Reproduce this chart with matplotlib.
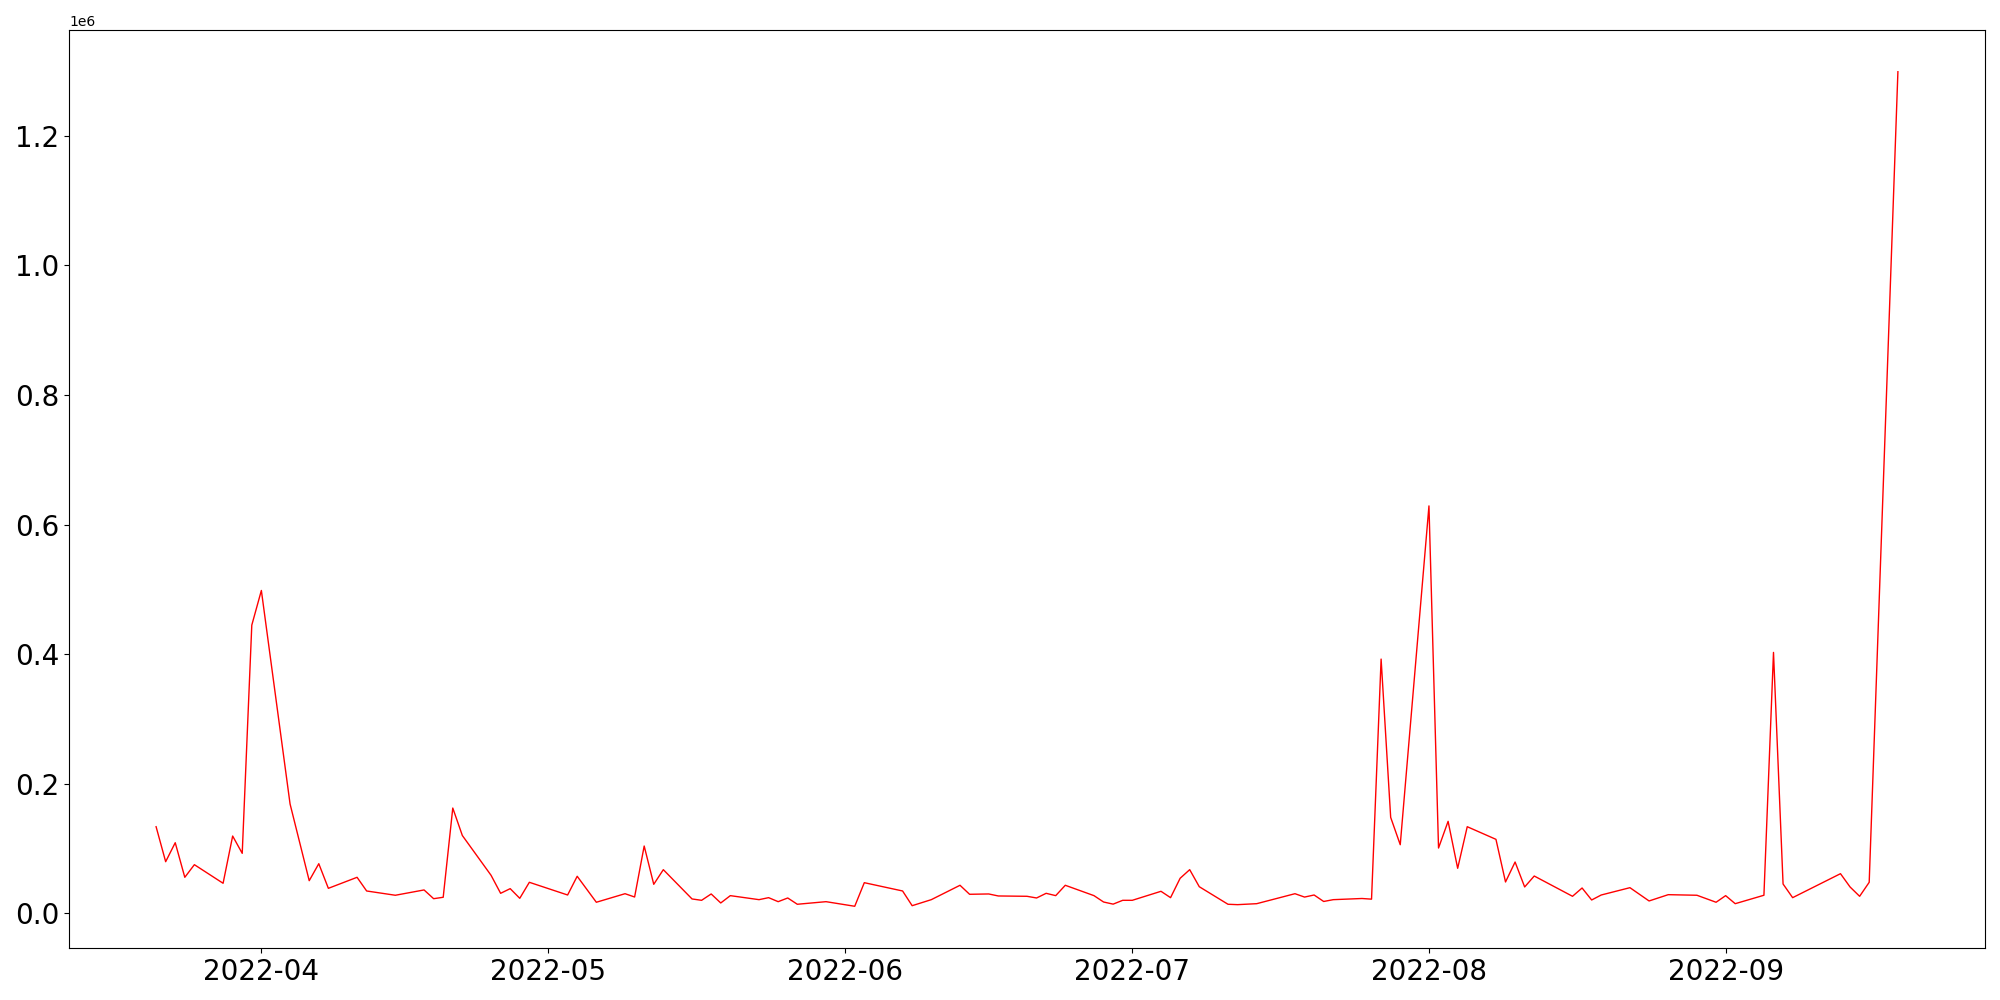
import pandas as pd
import numpy as np
import matplotlib
matplotlib.use("Agg")
import matplotlib.pyplot as plt

# daily values (gaps = missing days)
dates = ["2022-03-21", "2022-03-22", "2022-03-23", "2022-03-24", "2022-03-25",
         "2022-03-28", "2022-03-29", "2022-03-30", "2022-03-31", "2022-04-01",
         "2022-04-04", "2022-04-06", "2022-04-07", "2022-04-08", "2022-04-11",
         "2022-04-12", "2022-04-15", "2022-04-18", "2022-04-19", "2022-04-20",
         "2022-04-21", "2022-04-22", "2022-04-25", "2022-04-26", "2022-04-27",
         "2022-04-28", "2022-04-29", "2022-05-03", "2022-05-04", "2022-05-06",
         "2022-05-09", "2022-05-10", "2022-05-11", "2022-05-12", "2022-05-13",
         "2022-05-16", "2022-05-17", "2022-05-18", "2022-05-19", "2022-05-20",
         "2022-05-23", "2022-05-24", "2022-05-25", "2022-05-26", "2022-05-27",
         "2022-05-30", "2022-06-02", "2022-06-03", "2022-06-07", "2022-06-08",
         "2022-06-10", "2022-06-13", "2022-06-14", "2022-06-16", "2022-06-17",
         "2022-06-20", "2022-06-21", "2022-06-22", "2022-06-23", "2022-06-24",
         "2022-06-27", "2022-06-28", "2022-06-29", "2022-06-30", "2022-07-01",
         "2022-07-04", "2022-07-05", "2022-07-06", "2022-07-07", "2022-07-08",
         "2022-07-11", "2022-07-12", "2022-07-14", "2022-07-18", "2022-07-19",
         "2022-07-20", "2022-07-21", "2022-07-22", "2022-07-25", "2022-07-26",
         "2022-07-27", "2022-07-28", "2022-07-29", "2022-08-01", "2022-08-02",
         "2022-08-03", "2022-08-04", "2022-08-05", "2022-08-08", "2022-08-09",
         "2022-08-10", "2022-08-11", "2022-08-12", "2022-08-16", "2022-08-17",
         "2022-08-18", "2022-08-19", "2022-08-22", "2022-08-24", "2022-08-26",
         "2022-08-29", "2022-08-31", "2022-09-01", "2022-09-02", "2022-09-05",
         "2022-09-06", "2022-09-07", "2022-09-08", "2022-09-13", "2022-09-14",
         "2022-09-15", "2022-09-16", "2022-09-19"]

# in millions
values = [0.1336, 0.0796, 0.1089, 0.0555, 0.0750,
          0.0463, 0.1192, 0.0925, 0.4447, 0.4982,
          0.1686, 0.0503, 0.0765, 0.0385, 0.0555,
          0.0344, 0.0278, 0.0360, 0.0225, 0.0247,
          0.1624, 0.1200, 0.0586, 0.0308, 0.0380,
          0.0231, 0.0478, 0.0282, 0.0571, 0.0170,
          0.0302, 0.0251, 0.1038, 0.0447, 0.0673,
          0.0221, 0.0200, 0.0298, 0.0159, 0.0272,
          0.0210, 0.0241, 0.0179, 0.0236, 0.0139,
          0.0179, 0.0108, 0.0472, 0.0344, 0.0117,
          0.0210, 0.0432, 0.0293, 0.0298, 0.0267,
          0.0262, 0.0236, 0.0308, 0.0272, 0.0432,
          0.0272, 0.0174, 0.0141, 0.0200, 0.0200,
          0.0339, 0.0241, 0.0540, 0.0673, 0.0410,
          0.0139, 0.0133, 0.0148, 0.0302, 0.0250,
          0.0282, 0.0182, 0.0210, 0.0228, 0.0218,
          0.3923, 0.1480, 0.1058, 0.6287, 0.1007,
          0.1419, 0.0694, 0.1336, 0.1141, 0.0483,
          0.0791, 0.0406, 0.0575, 0.0262, 0.0390,
          0.0205, 0.0282, 0.0395, 0.0190, 0.0287,
          0.0278, 0.0170, 0.0272, 0.0148, 0.0278,
          0.4026, 0.0452, 0.0241, 0.0611, 0.0406,
          0.0262, 0.0478, 1.2988]

x = pd.to_datetime(dates)
y = np.array(values) * 1e6

fig = plt.figure(figsize=(20, 10), dpi=100)
plt.plot(x, y, color="red", linewidth=1.0)
plt.xticks(fontsize=20)
plt.yticks(fontsize=20)
plt.subplots_adjust(left=0.0345, right=0.9925, bottom=0.052, top=0.97)
plt.savefig("out.png", dpi=100)
